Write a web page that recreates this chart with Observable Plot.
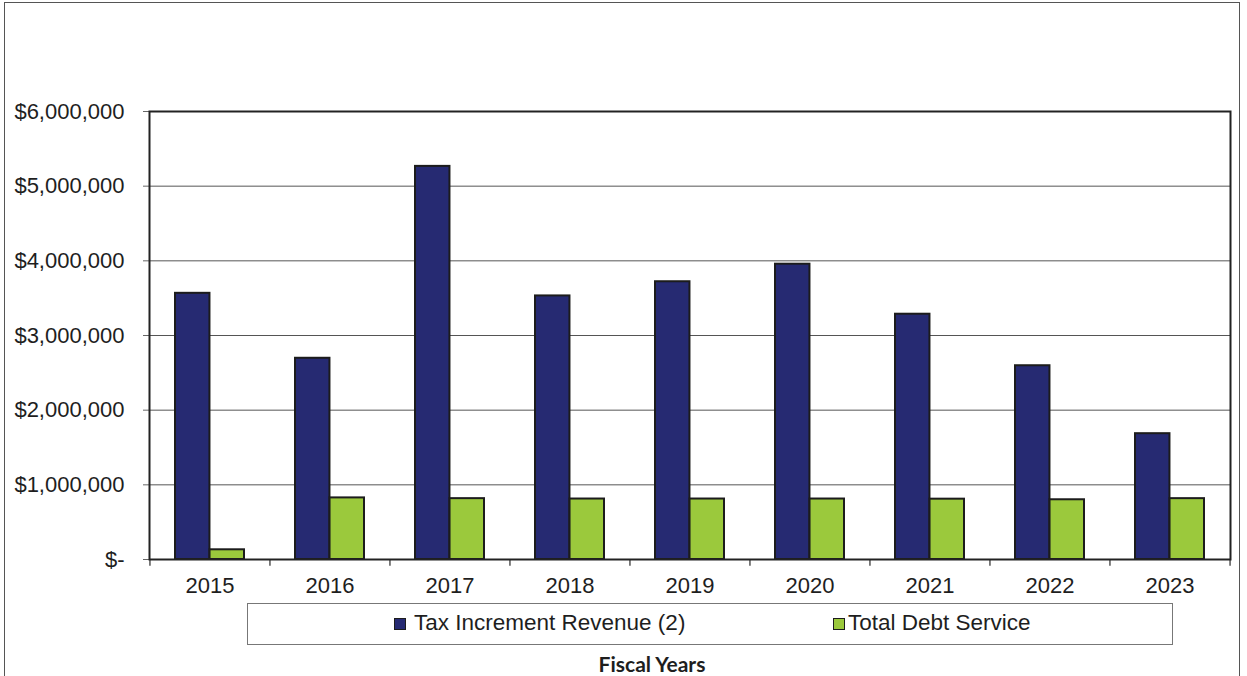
<!DOCTYPE html>
<html>
<head>
<meta charset="utf-8">
<script src="https://cdn.jsdelivr.net/npm/d3@7"></script>
<script src="https://cdn.jsdelivr.net/npm/@observablehq/plot@0.6"></script>
<style>
  html, body { margin: 0; padding: 0; background: #fff; }
  body { width: 1247px; height: 676px; position: relative; overflow: hidden; font-family: "Liberation Sans", Arial, sans-serif; }
  #frame { position: absolute; left: 4px; top: 2px; width: 1236px; height: 720px; border: 1px solid #555; box-sizing: border-box; }
  #chart { position: absolute; left: 0; top: 0; }
  #legend { position: absolute; left: 247px; top: 603px; width: 926px; height: 42px; border: 1px solid #777; box-sizing: border-box; }
  .sw { position: absolute; top: 14px; width: 10px; height: 10px; border: 1.5px solid #1c1c1c; box-sizing: content-box; }
  .lt { position: absolute; top: 7px; font-size: 22.5px; line-height: 24px; color: #1e1e1e; white-space: nowrap; }
  #xtitle { position: absolute; left: 552px; width: 200px; top: 651px; text-align: center; font-family: Lato, "Open Sans", sans-serif; font-weight: 700; font-size: 21px; color: #1e1e1e; }
</style>
</head>
<body>
<div id="frame"></div>
<div id="chart"></div>
<div id="legend"></div>
<div id="xtitle">Fiscal Years</div>
<script>
const years = ["2015", "2016", "2017", "2018", "2019", "2020", "2021", "2022", "2023"];
const taxIncrementRevenue = [3565000, 2695000, 5265000, 3530000, 3720000, 3955000, 3285000, 2595000, 1685000];
const totalDebtService = [130000, 825000, 815000, 810000, 810000, 810000, 808000, 800000, 815000];
const yTicks = [0, 1000000, 2000000, 3000000, 4000000, 5000000, 6000000];
const seriesNames = ["Tax Increment Revenue (2)", "Total Debt Service"];
const seriesColors = ["#262a72", "#9bc93c"];

const data = years.map((y, i) => ({ year: y, tir: taxIncrementRevenue[i], debt: totalDebtService[i] }));

const W = 1247, H = 600, mL = 149, mR = 17, mT = 111, mB = 41;
const pInner = 0.425, pOuter = pInner / 2;
const step = (W - mL - mR) / years.length;
const half = step * (1 - pInner) / 2;
const fmt = d => d === 0 ? "$-" : "$" + d3.format(",")(d);

const chart = Plot.plot({
  width: W, height: H,
  marginLeft: mL, marginRight: mR, marginTop: mT, marginBottom: mB,
  style: { fontFamily: "'Liberation Sans', Arial, sans-serif", fontSize: "22px", color: "#1e1e1e", background: "transparent" },
  x: { domain: years, paddingInner: pInner, paddingOuter: pOuter, label: null },
  y: { domain: [0, 6000000], label: null },
  marks: [
    Plot.gridY(yTicks, { stroke: "#555", strokeOpacity: 1, strokeWidth: 1 }),
    Plot.axisY(yTicks, { tickFormat: fmt, tickSize: 6, tickPadding: 19, fontSize: 22, label: null, stroke: "#666" }),
    Plot.axisX({ tickSize: 0, tickPadding: 18, fontSize: 22, label: null }),
    Plot.ruleX(years, { x: d => d, y1: 0, y2: -90000, dx: -step / 2, stroke: "#555", strokeWidth: 1.5 }),
    Plot.ruleX(years.slice(-1), { x: d => d, y1: 0, y2: -90000, dx: step / 2, stroke: "#555", strokeWidth: 1.5 }),
    Plot.barY(data, { x: "year", y: "tir", fill: seriesColors[0], stroke: "#1c1c1c", strokeWidth: 2, insetRight: half }),
    Plot.barY(data, { x: "year", y: "debt", fill: seriesColors[1], stroke: "#1c1c1c", strokeWidth: 2, insetLeft: half }),
    Plot.frame({ stroke: "#222", strokeWidth: 2 })
  ]
});
document.getElementById("chart").appendChild(chart);

const legend = document.getElementById("legend");
const swLeft = [146, 585], txtLeft = [166, 600];
seriesNames.forEach((name, i) => {
  const sw = document.createElement("div");
  sw.className = "sw";
  sw.style.left = swLeft[i] + "px";
  sw.style.background = seriesColors[i];
  legend.appendChild(sw);
  const t = document.createElement("div");
  t.className = "lt";
  t.style.left = txtLeft[i] + "px";
  t.textContent = name;
  legend.appendChild(t);
});
</script>
</body>
</html>
